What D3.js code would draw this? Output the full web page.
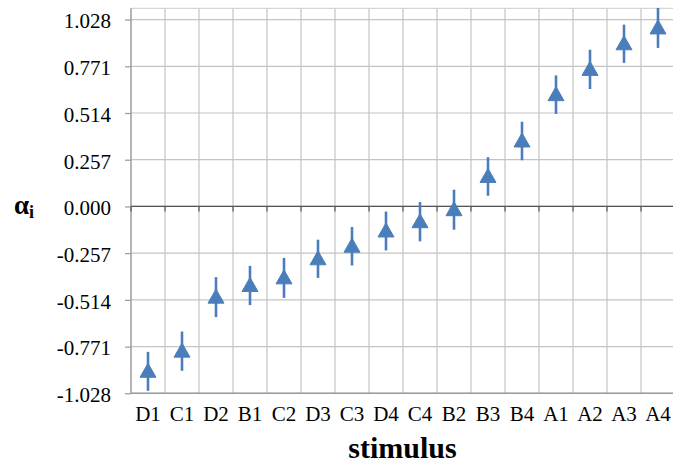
<!DOCTYPE html>
<html>
<head>
<meta charset="utf-8">
<script src="https://cdn.jsdelivr.net/npm/d3@7"></script>
<style>
  body { margin: 0; background: #fff; }
  svg text { font-family: "Liberation Serif", "Times New Roman", serif; fill: #000; }
</style>
</head>
<body>
<svg width="673" height="466"></svg>
<script>
// stimuli, in plotted order
const stimuli = ["D1", "C1", "D2", "B1", "C2", "D3", "C3", "D4", "C4", "B2", "B3", "B4", "A1", "A2", "A3", "A4"];
// estimated alpha_i per stimulus
const alpha = [-0.907, -0.796, -0.499, -0.435, -0.393, -0.288, -0.219, -0.135, -0.084, -0.018, 0.165, 0.360, 0.615, 0.754, 0.895, 0.982];
// half length of the error bars
const err = [0.107, 0.108, 0.110, 0.108, 0.110, 0.105, 0.106, 0.107, 0.108, 0.110, 0.106, 0.106, 0.106, 0.108, 0.105, 0.110];
// y tick values and labels
const yTicks = [-1.028, -0.771, -0.514, -0.257, 0, 0.257, 0.514, 0.771, 1.028];
const yLabels = ["-1.028", "-0.771", "-0.514", "-0.257", "0.000", "0.257", "0.514", "0.771", "1.028"];

const blue = "#4a7ebb";
const svg = d3.select("svg");

const x = d3.scaleBand()
  .domain(stimuli)
  .range([131, 675]);

const y = d3.scaleLinear()
  .domain([-1.028, 1.09])
  .range([393.3, 8.3]);

const data = stimuli.map(function(s, i) { return {id: s, v: alpha[i], e: err[i]}; });

// vertical gridlines at category boundaries
const bounds = stimuli.map(function(s) { return x(s); }).concat([x.range()[1]]);
svg.append("g").selectAll("line")
  .data(bounds)
  .enter().append("line")
    .attr("x1", function(d) { return d; })
    .attr("x2", function(d) { return d; })
    .attr("y1", y(1.09))
    .attr("y2", y(-1.028))
    .attr("stroke", "#c4c4c4")
    .attr("stroke-width", 1.2);

// horizontal gridlines
svg.append("g").selectAll("line")
  .data(yTicks.concat([1.09]))
  .enter().append("line")
    .attr("x1", x.range()[0])
    .attr("x2", x.range()[1])
    .attr("y1", function(d) { return y(d); })
    .attr("y2", function(d) { return y(d); })
    .attr("stroke", function(d) { return d === 1.09 ? "#d6d6d6" : "#c4c4c4"; })
    .attr("stroke-width", 1.2);

// y axis line and ticks
const yAxis = d3.axisLeft(y)
  .tickValues(yTicks)
  .tickSize(6)
  .tickFormat("");

const gy = svg.append("g")
  .attr("transform", "translate(131,0)")
  .call(yAxis);
gy.select(".domain")
  .attr("d", "M0," + y(1.09) + "V" + y(-1.028))
  .attr("stroke", "#9a9a9a")
  .attr("stroke-width", 1.2);
gy.selectAll(".tick line").attr("stroke", "#9a9a9a").attr("stroke-width", 1.2);

// y tick labels
svg.append("g").selectAll("text")
  .data(yTicks)
  .enter().append("text")
    .attr("x", 111)
    .attr("y", function(d) { return y(d); })
    .attr("dy", "0.42em")
    .attr("text-anchor", "end")
    .attr("font-size", 21)
    .text(function(d, i) { return yLabels[i]; });

// bottom line at -1.028
svg.append("line")
  .attr("x1", x.range()[0]).attr("x2", x.range()[1])
  .attr("y1", y(-1.028)).attr("y2", y(-1.028))
  .attr("stroke", "#9a9a9a")
  .attr("stroke-width", 1.5);

// zero line with category ticks
const gz = svg.append("g");
gz.append("line")
  .attr("x1", x.range()[0]).attr("x2", x.range()[1])
  .attr("y1", y(0)).attr("y2", y(0))
  .attr("stroke", "#555")
  .attr("stroke-width", 1.2);
gz.selectAll("line.tk")
  .data(bounds)
  .enter().append("line")
    .attr("class", "tk")
    .attr("x1", function(d) { return d; })
    .attr("x2", function(d) { return d; })
    .attr("y1", y(0))
    .attr("y2", y(0) + 5)
    .attr("stroke", "#555")
    .attr("stroke-width", 1.2);

// category labels
svg.append("g").selectAll("text")
  .data(stimuli)
  .enter().append("text")
    .attr("x", function(d) { return x(d) + x.bandwidth() / 2; })
    .attr("y", 421)
    .attr("text-anchor", "middle")
    .attr("font-size", 21)
    .text(function(d) { return d; });

// error bars
svg.append("g").selectAll("line")
  .data(data)
  .enter().append("line")
    .attr("x1", function(d) { return x(d.id) + x.bandwidth() / 2; })
    .attr("x2", function(d) { return x(d.id) + x.bandwidth() / 2; })
    .attr("y1", function(d) { return y(d.v + d.e); })
    .attr("y2", function(d) { return y(d.v - d.e); })
    .attr("stroke", blue)
    .attr("stroke-width", 2.6);

// triangle markers
svg.append("g").selectAll("path")
  .data(data)
  .enter().append("path")
    .attr("transform", function(d) { return "translate(" + (x(d.id) + x.bandwidth() / 2) + "," + y(d.v) + ")"; })
    .attr("d", "M0,-8L8,6L-8,6Z")
    .attr("fill", blue)
    .attr("stroke", blue)
    .attr("stroke-width", 1)
    .attr("stroke-linejoin", "round");

// axis titles
svg.append("text")
  .attr("x", 402.5)
  .attr("y", 458)
  .attr("text-anchor", "middle")
  .attr("font-size", 30)
  .attr("font-weight", "bold")
  .text("stimulus");

const ylab = svg.append("text")
  .attr("x", 14)
  .attr("y", 213.5)
  .attr("font-size", 27)
  .attr("font-weight", "bold");
ylab.append("tspan").text("α");
ylab.append("tspan")
  .attr("font-size", 18)
  .attr("dy", 4)
  .text("i");
</script>
</body>
</html>
